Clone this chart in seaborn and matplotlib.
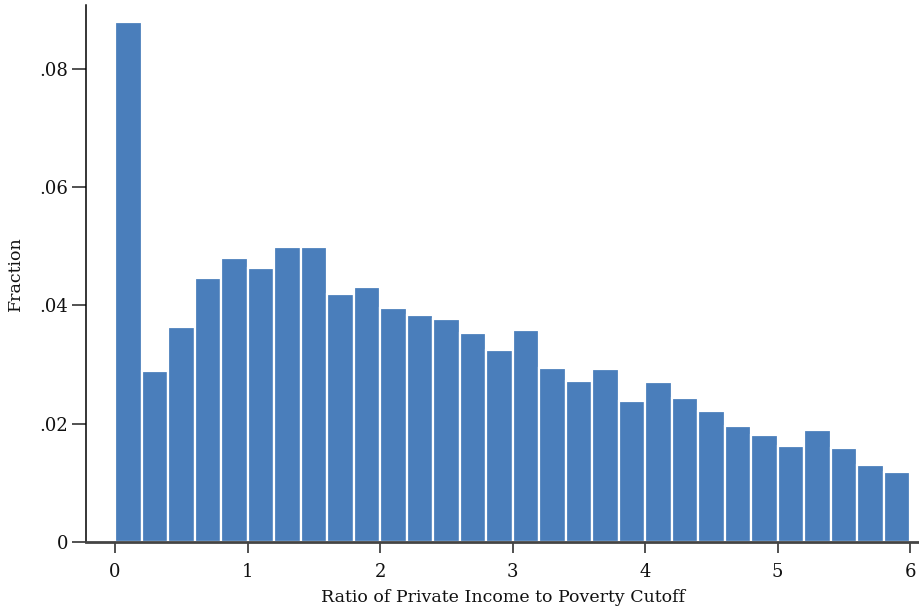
import numpy as np
import pandas as pd
import matplotlib
matplotlib.use("Agg")
import matplotlib.pyplot as plt
import seaborn as sns

# Share of households in each 0.2-wide bin of the income-to-poverty ratio
bin_left = [0.0, 0.2, 0.4, 0.6, 0.8, 1.0, 1.2, 1.4, 1.6, 1.8,
            2.0, 2.2, 2.4, 2.6, 2.8, 3.0, 3.2, 3.4, 3.6, 3.8,
            4.0, 4.2, 4.4, 4.6, 4.8, 5.0, 5.2, 5.4, 5.6, 5.8]
fraction = [0.0880, 0.0289, 0.0364, 0.0447, 0.0480, 0.0463, 0.0499, 0.0499, 0.0419, 0.0431,
            0.0396, 0.0384, 0.0377, 0.0353, 0.0325, 0.0359, 0.0294, 0.0272, 0.0293, 0.0238,
            0.0271, 0.0244, 0.0222, 0.0196, 0.0181, 0.0162, 0.0189, 0.0159, 0.0130, 0.0118]
bin_width = 0.2
x_ticks = [0, 1, 2, 3, 4, 5, 6]
y_ticks = [0, 0.02, 0.04, 0.06, 0.08]
y_tick_labels = ["0", ".02", ".04", ".06", ".08"]

df = pd.DataFrame({"ratio": np.array(bin_left) + bin_width / 2, "fraction": fraction})

sns.set_style("white")
plt.rcParams["font.family"] = ["DejaVu Serif"]

fig = plt.figure(figsize=(9.2, 6.09), dpi=100)
ax = fig.add_axes([86 / 920, 67 / 609, 834 / 920, 537 / 609])

sns.histplot(data=df, x="ratio", weights="fraction", binwidth=bin_width,
             binrange=(0, 6), stat="count",
             color="#4A7EBB", alpha=1.0, edgecolor="white", linewidth=1.6, ax=ax)

ax.set_xlim(-0.219, 6.075)
ax.set_ylim(0, 0.0908)

ax.set_xticks(x_ticks)
ax.set_xticklabels([str(t) for t in x_ticks])
ax.set_yticks(y_ticks)
ax.set_yticklabels(y_tick_labels)

for side in ["top", "right"]:
    ax.spines[side].set_visible(False)
ax.spines["left"].set_color("black")
ax.spines["left"].set_linewidth(1.1)
ax.spines["bottom"].set_color("#444444")
ax.spines["bottom"].set_linewidth(2.0)

ax.tick_params(axis="y", which="major", direction="out", length=10, width=1.1,
               color="#222222", labelsize=13, labelcolor="#111111", pad=3, left=True)
ax.tick_params(axis="x", which="major", direction="out", length=8, width=1.1,
               color="#222222", labelsize=13, labelcolor="#111111", pad=7, bottom=True)

ax.set_xlabel("Ratio of Private Income to Poverty Cutoff", fontsize=12.5,
              color="#111111", labelpad=6)
ax.set_ylabel("Fraction", fontsize=12.5, color="#111111", labelpad=11)

fig.savefig("out.png", dpi=100)
